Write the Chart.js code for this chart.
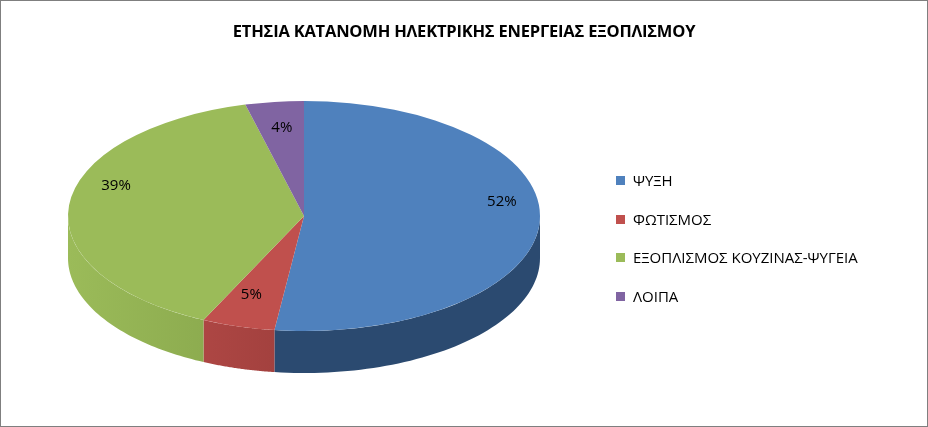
<!DOCTYPE html>
<html><head><meta charset="utf-8">
<script src="https://cdn.jsdelivr.net/npm/chart.js@4/dist/chart.umd.min.js"></script>
<style>
body{margin:0;background:#fff;font-family:"Open Sans","Liberation Sans","DejaVu Sans",sans-serif}
#wrap{position:relative;width:926px;height:425px;border:1px solid #7f7f7f}
#title{position:absolute;left:0;width:926px;top:18px;text-align:center;font-weight:bold;font-size:16.5px;color:#000;letter-spacing:-0.2px}
#legend{position:absolute;left:615px;top:169px;font-size:15px;color:#000}
.li{height:38.5px;display:flex;align-items:flex-start}
.sw{width:9px;height:9px;margin:6px 8px 0 0}
</style></head><body>
<div id="wrap"><canvas id="c" width="926" height="425"></canvas>
<div id="title">ΕΤΗΣΙΑ ΚΑΤΑΝΟΜΗ ΗΛΕΚΤΡΙΚΗΣ ΕΝΕΡΓΕΙΑΣ ΕΞΟΠΛΙΣΜΟΥ</div>
<div id="legend"></div></div>
<script>
const categories=["ΨΥΞΗ","ΦΩΤΙΣΜΟΣ","ΕΞΟΠΛΙΣΜΟΣ ΚΟΥΖΙΝΑΣ-ΨΥΓΕΙΑ","ΛΟΙΠΑ"];
const values=[52,5,39,4];
const colors=["#4F81BD","#C0504D","#9BBB59","#8064A2"];
const sideColors=["#2B4A70","#7E2E2C","#6A8738","#543F70"];
const RX=236, DEPTH=42;
const lg=document.getElementById('legend');
categories.forEach((c,i)=>{lg.innerHTML+=`<div class="li"><div class="sw" style="background:${colors[i]}"></div>${c}</div>`;});
const three={
 id:'three',
 beforeDatasetsDraw(chart){
  const ctx=chart.ctx, meta=chart.getDatasetMeta(0);
  const el0=meta.data[0]; const cx=el0.x, cy=el0.y, r=el0.outerRadius, ry=r;
  ctx.save();
  meta.data.forEach((el,i)=>{
   const a=Math.max(el.startAngle,0), b=Math.min(el.endAngle,Math.PI);
   if(b<=a) return;
   ctx.beginPath();
   const N=60;
   for(let k=0;k<=N;k++){const t=a+(b-a)*k/N;const x=cx+RX*Math.cos(t),y=cy+ry*Math.sin(t);k?ctx.lineTo(x,y):ctx.moveTo(x,y);}
   for(let k=N;k>=0;k--){const t=a+(b-a)*k/N;ctx.lineTo(cx+RX*Math.cos(t),cy+ry*Math.sin(t)+DEPTH);}
   ctx.closePath();
   const g=ctx.createLinearGradient(cx-RX,0,cx+RX,0);
   g.addColorStop(0,colors[i]);g.addColorStop(1,sideColors[i]);
   ctx.fillStyle=i===0?sideColors[0]:g; ctx.fill();
  });
  ctx.restore();
  ctx.save();
  ctx.translate(cx,cy);ctx.scale(RX/r,1);ctx.translate(-cx,-cy);
 },
 afterDatasetsDraw(chart){
  const ctx=chart.ctx; ctx.restore();
  const meta=chart.getDatasetMeta(0);
  ctx.save();ctx.font='15px "Open Sans","Liberation Sans",sans-serif';ctx.fillStyle='#000';ctx.textAlign='center';ctx.textBaseline='middle';
  const tot=values.reduce((s,v)=>s+v,0);
  const ks=[0.84,0.8,0.8,0.75], dy=[-20,-10,-22,-3];
  meta.data.forEach((el,i)=>{
   const m=(el.startAngle+el.endAngle)/2;
   ctx.fillText(Math.round(values[i]/tot*100)+'%',el.x+RX*ks[i]*Math.cos(m),el.y+el.outerRadius*ks[i]*Math.sin(m)+dy[i]);
  });
  ctx.restore();
 }
};
new Chart(document.getElementById('c'),{
 type:'pie',
 data:{labels:categories,datasets:[{data:values,backgroundColor:colors,borderWidth:0}]},
 options:{responsive:false,animation:false,events:[],
  layout:{padding:{left:188,right:508,top:100,bottom:95}},
  plugins:{legend:{display:false},tooltip:{enabled:false}}},
 plugins:[three]
});
</script></body></html>
